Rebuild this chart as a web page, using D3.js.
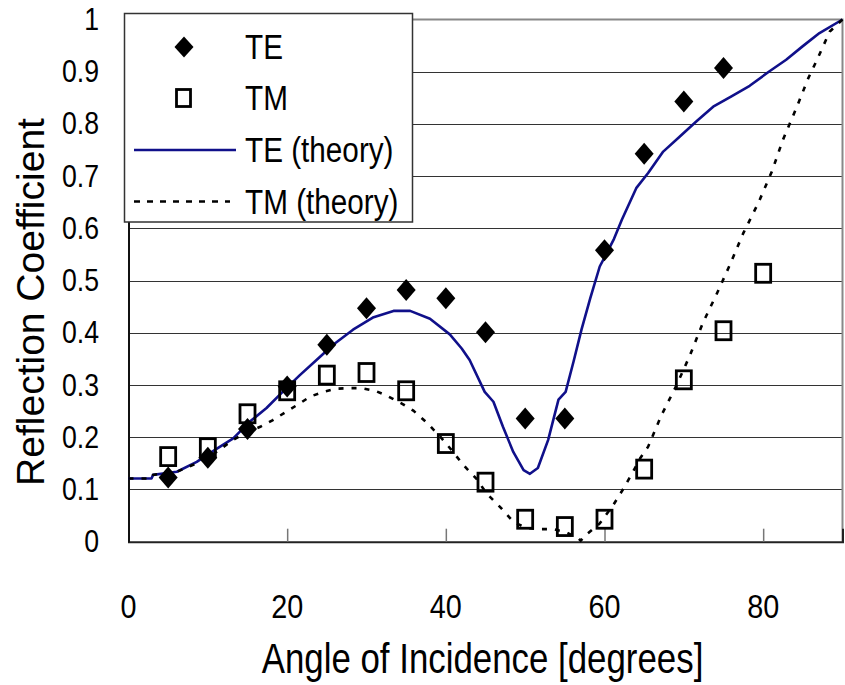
<!DOCTYPE html>
<html>
<head>
<meta charset="utf-8">
<script src="https://cdn.jsdelivr.net/npm/d3@7"></script>
<style>
  html, body { margin: 0; padding: 0; background: #fff; }
  svg { display: block; font-family: "Liberation Sans", Arial, sans-serif; }
</style>
</head>
<body>
<svg id="chart" width="845" height="685"></svg>
<script>
// Measured reflection coefficients
const teAngles = [5, 10, 15, 20, 25, 30, 35, 40, 45, 50, 55, 60, 65, 70, 75];
const teMeasured = [0.123, 0.161, 0.216, 0.297, 0.377, 0.447, 0.482, 0.466, 0.401, 0.236, 0.236, 0.558, 0.743, 0.843, 0.907];

const tmAngles = [5, 10, 15, 20, 25, 30, 35, 40, 45, 50, 55, 60, 65, 70, 75, 80];
const tmMeasured = [0.163, 0.180, 0.245, 0.289, 0.319, 0.324, 0.289, 0.188, 0.114, 0.043, 0.029, 0.043, 0.139, 0.310, 0.404, 0.514];

// Theoretical curves
const teTheoryAngles = [0, 2.9, 3.1, 6.1, 8.6, 10.9, 13.2, 15.3, 17.4, 19.9, 21.6, 23.7, 25.8, 28.3, 30.9, 33.4, 35.5, 38.0, 40.5, 42.0, 43.0, 44.9, 46.0, 47.2, 48.5, 49.8, 50.6, 51.6, 52.9, 54.2, 55.1, 56.1, 57.1, 58.2, 59.4, 60.3, 61.2, 62.2, 64.0, 65.5, 67.4, 69.5, 71.6, 73.7, 76.0, 78.3, 80.8, 82.9, 85.0, 87.1, 90];
const teTheory = [0.121, 0.121, 0.128, 0.134, 0.153, 0.176, 0.198, 0.230, 0.256, 0.294, 0.319, 0.348, 0.377, 0.406, 0.430, 0.442, 0.442, 0.427, 0.397, 0.370, 0.348, 0.287, 0.268, 0.220, 0.172, 0.137, 0.130, 0.141, 0.195, 0.272, 0.287, 0.345, 0.406, 0.466, 0.527, 0.553, 0.580, 0.617, 0.677, 0.706, 0.747, 0.776, 0.805, 0.833, 0.853, 0.873, 0.901, 0.923, 0.949, 0.974, 1.0];

const tmTheoryAngles = [0, 2.9, 3.1, 6.1, 8.6, 10.9, 13.2, 15.0, 16.6, 18.2, 19.9, 21.6, 22.9, 24.6, 26.2, 27.9, 29.4, 31.1, 32.5, 34.4, 35.9, 37.6, 39.3, 40.7, 42.2, 43.9, 45.1, 47.0, 48.5, 50.2, 51.9, 53.5, 55.0, 56.7, 57.0, 57.9, 59.4, 61.1, 62.4, 63.6, 64.5, 65.5, 67.2, 69.1, 70.8, 72.4, 74.1, 75.8, 77.5, 79.4, 81.1, 82.5, 84.2, 85.7, 86.7, 88.4, 90];
const tmTheory = [0.121, 0.121, 0.128, 0.134, 0.150, 0.170, 0.195, 0.210, 0.220, 0.233, 0.249, 0.265, 0.278, 0.287, 0.293, 0.294, 0.294, 0.289, 0.280, 0.265, 0.251, 0.228, 0.201, 0.176, 0.147, 0.120, 0.093, 0.064, 0.038, 0.026, 0.024, 0.024, 0.019, 0.007, 0.002, 0.016, 0.035, 0.070, 0.102, 0.134, 0.160, 0.182, 0.243, 0.300, 0.358, 0.419, 0.473, 0.530, 0.591, 0.649, 0.709, 0.770, 0.831, 0.888, 0.920, 0.977, 1.0];

// Axis ticks and labels
const xTicks = [0, 20, 40, 60, 80];
const yTicks = [0, 0.1, 0.2, 0.3, 0.4, 0.5, 0.6, 0.7, 0.8, 0.9, 1];
const yTickLabels = ["0", "0.1", "0.2", "0.3", "0.4", "0.5", "0.6", "0.7", "0.8", "0.9", "1"];
const legendLabels = ["TE", "TM", "TE (theory)", "TM (theory)"];
const xTitle = "Angle of Incidence [degrees]";
const yTitle = "Reflection Coefficient";

const svg = d3.select("#chart");
const x = d3.scaleLinear().domain([0, 90]).range([128.5, 842.5]);
const y = d3.scaleLinear().domain([0, 1]).range([541.7, 19.5]);

const teColor = "#10108a";

// Horizontal gridlines
svg.append("g").selectAll("line")
  .data(yTicks.filter(d => d > 0 && d < 1))
  .join("line")
  .attr("x1", x(0)).attr("x2", x(90))
  .attr("y1", d => Math.round(y(d)) + 0.5).attr("y2", d => Math.round(y(d)) + 0.5)
  .attr("stroke", "#333").attr("stroke-width", 1.2);

// Plot frame: grey top and right edges
svg.append("path")
  .attr("d", `M${x(0)},${y(1)}H${x(90)}V${y(0)}`)
  .attr("fill", "none").attr("stroke", "#888").attr("stroke-width", 2);

// Bottom axis with inward ticks
const xAxis = d3.axisBottom(x).tickValues(xTicks).tickSize(-13).tickFormat("");
const gx = svg.append("g").attr("transform", `translate(0,${y(0)})`).call(xAxis);
gx.select(".domain").attr("stroke", "#222").attr("stroke-width", 2);
gx.selectAll(".tick line").attr("stroke", "#777").attr("stroke-width", 1.5);

// Left axis
const yAxis = d3.axisLeft(y).tickValues(yTicks).tickSize(0).tickFormat("");
const gy = svg.append("g").attr("transform", `translate(${x(0)},0)`).call(yAxis);
gy.select(".domain").attr("stroke", "#111").attr("stroke-width", 2);

// Tick labels
svg.append("g").selectAll("text")
  .data(yTicks)
  .join("text")
  .attr("transform", d => `translate(99,${y(d) + 10.5}) scale(0.92,1.05)`)
  .attr("text-anchor", "end")
  .attr("font-size", 29)
  .text((d, i) => yTickLabels[i]);

svg.append("g").selectAll("text")
  .data(xTicks)
  .join("text")
  .attr("transform", d => `translate(${x(d)},618) scale(0.9,1.05)`)
  .attr("text-anchor", "middle")
  .attr("font-size", 32)
  .text(d => d);

// Axis titles
svg.append("text")
  .attr("transform", "translate(482.5,673) scale(0.83,1)")
  .attr("text-anchor", "middle")
  .attr("font-size", 42)
  .text(xTitle);

svg.append("text")
  .attr("transform", "translate(44,302) rotate(-90)")
  .attr("text-anchor", "middle")
  .attr("font-size", 39)
  .text(yTitle);

// Theory curves
const curve = d3.line().x(d => x(d[0])).y(d => y(d[1]));
svg.append("path")
  .datum(teTheoryAngles.map((a, i) => [a, teTheory[i]]))
  .attr("d", curve)
  .attr("fill", "none").attr("stroke", teColor).attr("stroke-width", 2.6)
  .attr("stroke-linejoin", "round");

svg.append("path")
  .datum(tmTheoryAngles.map((a, i) => [a, tmTheory[i]]))
  .attr("d", curve)
  .attr("fill", "none").attr("stroke", "#000").attr("stroke-width", 2.6)
  .attr("stroke-dasharray", "5,8");

// Marker shapes
const diamond = (w, h) => `M0,${-h / 2}L${w / 2},0L0,${h / 2}L${-w / 2},0Z`;

// TM measured: hollow squares
svg.append("g").selectAll("rect")
  .data(tmAngles.map((a, i) => [a, tmMeasured[i]]))
  .join("rect")
  .attr("x", d => x(d[0]) - 7.5).attr("y", d => y(d[1]) - 9)
  .attr("width", 15).attr("height", 18)
  .attr("fill", "none").attr("stroke", "#000").attr("stroke-width", 2.8);

// TE measured: filled diamonds
svg.append("g").selectAll("path")
  .data(teAngles.map((a, i) => [a, teMeasured[i]]))
  .join("path")
  .attr("transform", d => `translate(${x(d[0])},${y(d[1])})`)
  .attr("d", diamond(19, 22))
  .attr("fill", "#000");

// Legend
const lg = svg.append("g");
lg.append("rect")
  .attr("x", 124.5).attr("y", 13.5).attr("width", 288).attr("height", 208.5)
  .attr("fill", "#fff").attr("stroke", "#333").attr("stroke-width", 1.5);

const rowY = [47, 98, 150, 201.5];
lg.append("path")
  .attr("transform", `translate(184,${rowY[0]})`)
  .attr("d", diamond(19, 21)).attr("fill", "#000");
lg.append("rect")
  .attr("x", 176.5).attr("y", rowY[1] - 8.5).attr("width", 14).attr("height", 17)
  .attr("fill", "none").attr("stroke", "#000").attr("stroke-width", 2.8);
lg.append("line")
  .attr("x1", 134).attr("x2", 236).attr("y1", rowY[2]).attr("y2", rowY[2])
  .attr("stroke", teColor).attr("stroke-width", 2.6);
lg.append("line")
  .attr("x1", 134).attr("x2", 230).attr("y1", rowY[3]).attr("y2", rowY[3])
  .attr("stroke", "#000").attr("stroke-width", 2.6).attr("stroke-dasharray", "6,7");

lg.selectAll("text.lbl")
  .data(legendLabels)
  .join("text")
  .attr("class", "lbl")
  .attr("transform", (d, i) => `translate(245,${rowY[i] + 12}) scale(0.9,1.05)`)
  .attr("font-size", 33)
  .text(d => d);
</script>
</body>
</html>
